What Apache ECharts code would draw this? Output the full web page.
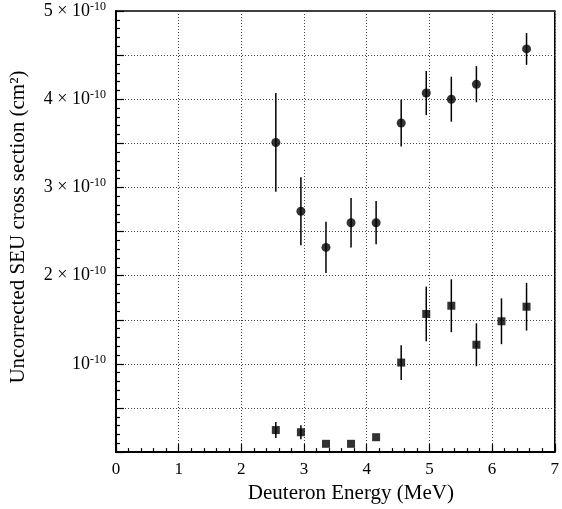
<!DOCTYPE html>
<html>
<head>
<meta charset="utf-8">
<script src="https://cdn.jsdelivr.net/npm/echarts@6/dist/echarts.min.js"></script>
<style>
  html, body { margin: 0; padding: 0; background: #fff; }
  #chart { width: 562px; height: 509px; }
</style>
</head>
<body>
<div id="chart"></div>
<script>
// values in units of 1e-10 cm^2
const circleEnergy = [2.55, 2.95, 3.35, 3.75, 4.15, 4.55, 4.95, 5.35, 5.75, 6.55]
const circleValue = [3.51, 2.73, 2.32, 2.60, 2.60, 3.73, 4.07, 4.00, 4.17, 4.57]
const circleError = [0.56, 0.385, 0.29, 0.28, 0.245, 0.265, 0.25, 0.255, 0.205, 0.18]

const squareEnergy = [2.55, 2.95, 3.35, 3.75, 4.15, 4.55, 4.95, 5.35, 5.75, 6.15, 6.55]
const squareValue = [0.25, 0.225, 0.094, 0.094, 0.169, 1.015, 1.566, 1.659, 1.217, 1.483, 1.648]
const squareError = [0.09, 0.08, 0, 0, 0, 0.197, 0.31, 0.30, 0.243, 0.26, 0.27]

const xTicks = [0, 1, 2, 3, 4, 5, 6, 7]
const yLabelled = [1, 2, 3, 4, 5]

const font = 'Liberation Serif'

function errorData(xs, ys, es) {
  return xs.map((x, i) => [x, ys[i] - es[i], ys[i] + es[i]])
}

function renderErrorBar(params, api) {
  const lo = api.coord([api.value(0), api.value(1)])
  const hi = api.coord([api.value(0), api.value(2)])
  return {
    type: 'line',
    shape: { x1: lo[0], y1: lo[1], x2: hi[0], y2: hi[1] },
    style: { stroke: '#000', lineWidth: 1.5 }
  }
}

const chart = echarts.init(document.getElementById('chart'))
const option = {
  animation: false,
  backgroundColor: '#fff',
  grid: {
    left: 116,
    right: 1,
    top: 11,
    bottom: 53,
    show: true,
    borderColor: '#000',
    borderWidth: 1.5
  },
  xAxis: {
    type: 'value',
    min: xTicks[0],
    max: xTicks[xTicks.length - 1],
    interval: 1,
    name: 'Deuteron Energy (MeV)',
    nameLocation: 'middle',
    nameGap: 25,
    nameTextStyle: { fontFamily: font, fontSize: 21, color: '#000', padding: [0, 0, 0, 31] },
    axisLine: { lineStyle: { color: '#000', width: 2 } },
    axisTick: { inside: true, length: 8, lineStyle: { color: '#000', width: 1.2 } },
    minorTick: { show: true, splitNumber: 5, length: 4, lineStyle: { color: '#000', width: 1.2 } },
    axisLabel: { fontFamily: font, fontSize: 17, color: '#000', margin: 9 },
    splitLine: { show: true, lineStyle: { color: '#444', type: [1, 2], width: 1 } }
  },
  yAxis: {
    type: 'value',
    min: 0,
    max: 5,
    interval: 0.5,
    name: 'Uncorrected SEU cross section (cm²)',
    nameLocation: 'middle',
    nameGap: 87,
    nameTextStyle: { fontFamily: font, fontSize: 21, color: '#000', padding: [0, 0, 0, 9] },
    axisLine: { lineStyle: { color: '#000', width: 2 } },
    axisTick: { inside: true, length: 8, lineStyle: { color: '#000', width: 1.2 } },
    minorTick: { show: true, splitNumber: 5, length: 4, lineStyle: { color: '#000', width: 1.2 } },
    axisLabel: {
      margin: 10,
      fontFamily: font,
      fontSize: 18,
      color: '#000',
      formatter: function (v) {
        const n = Math.round(v * 10) / 10
        if (yLabelled.indexOf(n) < 0) return ''
        if (n === 1) return '{b|10}{s|-10}'
        return '{b|' + n + ' × 10}{s|-10}'
      },
      rich: {
        b: { fontFamily: font, fontSize: 18, color: '#000' },
        s: { fontFamily: font, fontSize: 12, color: '#000', padding: [0, 0, 9, 0] }
      }
    },
    splitLine: { show: true, lineStyle: { color: '#444', type: [1, 2], width: 1 } }
  },
  series: [
    {
      type: 'custom',
      renderItem: renderErrorBar,
      data: errorData(circleEnergy, circleValue, circleError),
      encode: { x: 0, y: [1, 2] },
      z: 2
    },
    {
      type: 'custom',
      renderItem: renderErrorBar,
      data: errorData(squareEnergy, squareValue, squareError),
      encode: { x: 0, y: [1, 2] },
      z: 2
    },
    {
      type: 'scatter',
      symbol: 'circle',
      symbolSize: 9,
      itemStyle: { color: '#000' },
      data: circleEnergy.map((x, i) => [x, circleValue[i]]),
      z: 3
    },
    {
      type: 'scatter',
      symbol: 'rect',
      symbolSize: 8,
      itemStyle: { color: '#000' },
      data: squareEnergy.map((x, i) => [x, squareValue[i]]),
      z: 3
    }
  ]
}
chart.setOption(option)
</script>
</body>
</html>
